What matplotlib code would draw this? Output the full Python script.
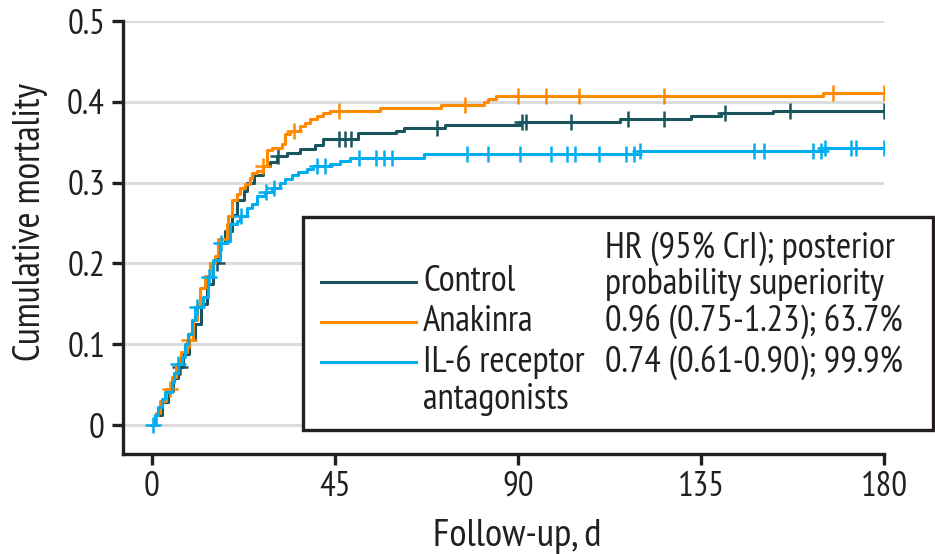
import numpy as np
import matplotlib
matplotlib.use("Agg")
import matplotlib.pyplot as plt
from matplotlib.patches import Rectangle
from matplotlib.lines import Line2D
from matplotlib import font_manager as fm

# ---- data ----
control_t = [0, 1, 2.5, 4, 5.2, 6.4, 7.5, 9, 10.5, 12, 13.5, 15, 16.3, 18, 19.7, 21, 22.5,
             23.4, 25, 27.3, 29, 30.8, 33.2, 36.4, 40.1, 42.1, 50.7, 60, 62, 72, 90.6, 115,
             132.5, 140, 152.7, 180]
control_v = [0, .012, .028, .042, .058, .072, .088, .105, .125, .15, .175, .2, .225, .24, .26,
             .278, .29, .3, .31, .321, .325, .333, .337, .342, .346, .354, .361, .364, .3675,
             .3716, .375, .3786, .3827, .386, .389, .389]
control_cens = [7, 16, 31, 46, 47.5, 49, 70, 91, 92, 103, 117, 126, 141, 157, 180]

anakinra_t = [0, 1, 2, 3.5, 5, 6, 7.2, 8.5, 10, 11, 11.8, 13, 14.3, 15.5, 16.3, 18.5, 18.6,
              19.7, 20.9, 21.7, 22.9, 24.1, 24.6, 25.9, 27.3, 28.3, 29.5, 32, 32.8, 34, 36.4,
              37.7, 38.9, 40.6, 42.1, 43.8, 56, 71, 81.6, 82.5, 84.5, 165, 180]
anakinra_v = [0, .015, .03, .045, .06, .075, .09, .105, .13, .15, .17, .185, .201, .209, .23,
              .249, .259, .278, .286, .293, .298, .306, .312, .315, .321, .34, .343, .348, .36,
              .364, .37, .374, .379, .383, .386, .389, .392, .396, .4, .403, .407, .411, .411]
anakinra_cens = [4.5, 9, 27.3, 35, 46, 77, 90, 97, 105, 126, 167.5, 180]

il6_t = [0, .7, 1.5, 2.5, 3.2, 4.9, 5.4, 6.4, 7.4, 8.0, 8.9, 9.9, 10.6, 12.6, 13.8, 15, 16.7,
         18.5, 19.2, 20.9, 21.7, 23.4, 24.6, 25.9, 27.8, 29.5, 31.5, 32.8, 34.5, 36, 38.2,
         39.6, 43.8, 46.3, 48.8, 67, 120, 165, 180]
il6_v = [0, .012, .022, .032, .041, .053, .065, .076, .084, .1, .113, .13, .146, .158, .183,
         .204, .225, .228, .249, .253, .259, .268, .274, .283, .288, .293, .299, .304, .309,
         .313, .317, .321, .323, .327, .331, .335, .3395, .343, .343]
il6_cens = [0.3, 6.4, 11, 14, 17, 22, 28, 30, 40.5, 42.5, 51, 55, 57, 59, 77.5, 82.5, 90.6, 98,
            102, 104, 110, 116.5, 118.5, 120, 148, 150.5, 162.5, 164.5, 165.5, 172, 173, 180]

x_ticks = [0, 45, 90, 135, 180]
y_ticks = [0, 0.1, 0.2, 0.3, 0.4, 0.5]
y_ticklabels = ['0', '0.1', '0.2', '0.3', '0.4', '0.5']

series_names = ['Control', 'Anakinra', 'IL-6 receptor', 'antagonists']
hr_header = ['HR (95% CrI); posterior', 'probability superiority']
hr_texts = ['0.96 (0.75-1.23); 63.7%', '0.74 (0.61-0.90); 99.9%']

colors = ['#1a555e', '#ff8a00', '#00aeef']
TXT = '#231f20'

# ---- font choice: a condensed humanist face if available ----
avail = {f.name for f in fm.fontManager.ttflist}
prefs = ['PT Sans Narrow', 'Roboto Condensed', 'Fira Sans Condensed', 'Archivo Narrow',
         'Liberation Sans Narrow', 'Asap Condensed', 'IBM Plex Sans Condensed',
         'Encode Sans Condensed', 'Barlow Semi Condensed']
fam = next((p for p in prefs if p in avail), 'DejaVu Sans')
plt.rcParams['font.family'] = [fam, 'DejaVu Sans']

W, H = 935, 554
fig = plt.figure(figsize=(W / 100, H / 100), dpi=100)
renderer = fig.canvas.get_renderer()

def fit_size(s, target_px, lo=12, hi=30):
    probe = fig.text(0, 0, s, fontsize=20)
    w = probe.get_window_extent(renderer).width
    probe.remove()
    return float(np.clip(20 * target_px / w, lo, hi))

FS_TICK = fit_size('180', 47)
FS_LEG = min(fit_size(hr_texts[0], 302), fit_size(hr_header[0], 290))
FS_XL = fit_size('Follow-up, d', 168)
FS_YL = fit_size('Cumulative mortality', 278)

ax = fig.add_axes([123 / W, 1 - 454 / H, (884 - 123) / W, (454 - 21) / H])

def step_val(ts, vs, t):
    i = np.searchsorted(ts, t, side='right') - 1
    return np.asarray(vs)[np.clip(i, 0, len(vs) - 1)]

series = [(control_t, control_v, control_cens),
          (anakinra_t, anakinra_v, anakinra_cens),
          (il6_t, il6_v, il6_cens)]
for (ts, vs, cs), c, z in zip(series, colors, [3, 4, 5]):
    ax.step(ts, vs, where='post', color=c, lw=2.2, zorder=z)
    ax.plot(cs, step_val(ts, vs, cs), ls='none', marker='+', ms=12, mew=1.8,
            color=c, zorder=z)

ax.set_xlim(-7.14, 180)
ax.set_ylim(-0.0358, 0.5)
ax.set_xticks(x_ticks)
ax.set_xticklabels([str(t) for t in x_ticks])
ax.set_yticks(y_ticks)
ax.set_yticklabels(y_ticklabels)
ax.yaxis.grid(True, color='#dcdcdc', lw=2.2, zorder=0)
ax.set_axisbelow(True)
for s in ['top', 'right']:
    ax.spines[s].set_visible(False)
for s in ['left', 'bottom']:
    ax.spines[s].set_linewidth(2.4)
    ax.spines[s].set_color(TXT)
ax.tick_params(axis='both', direction='out', length=8, width=2.4, color=TXT,
               labelsize=FS_TICK, labelcolor=TXT)
ax.tick_params(axis='y', pad=5)
ax.tick_params(axis='x', pad=4)

ax.set_xlabel('Follow-up, d', fontsize=FS_XL, color=TXT)
ax.xaxis.set_label_coords((517 - 123) / 761, -(537 - 454) / 433)
ax.xaxis.label.set_va('center')
ax.set_ylabel('Cumulative mortality', fontsize=FS_YL, color=TXT)
ax.yaxis.set_label_coords(-(123 - 30) / 761, (454 - 222) / 433)
ax.yaxis.label.set_va('center')

# ---- legend box ----
def fx(px):
    return px / W

def fy(py):
    return 1 - py / H

fig.patches.append(Rectangle((fx(303), fy(430)), fx(933) - fx(303), fy(217) - fy(430),
                             transform=fig.transFigure, fill=True, facecolor='white',
                             edgecolor=TXT, lw=2.4, zorder=10))
line_y = [282, 322, 362]
for yy, c in zip(line_y, colors):
    fig.add_artist(Line2D([fx(321), fx(416)], [fy(yy), fy(yy)], color=c, lw=2.2,
                          transform=fig.transFigure, zorder=11))
left_base = [291, 331, 372, 409]
for yy, name in zip(left_base, series_names):
    fig.text(fx(423), fy(yy), name, ha='left', va='baseline', fontsize=FS_LEG,
             color=TXT, zorder=12)
right_base = [258, 294, 331, 372]
for yy, t in zip(right_base, hr_header + hr_texts):
    fig.text(fx(605), fy(yy), t, ha='left', va='baseline', fontsize=FS_LEG,
             color=TXT, zorder=12)

fig.savefig('out.png', dpi=100, facecolor='white')
